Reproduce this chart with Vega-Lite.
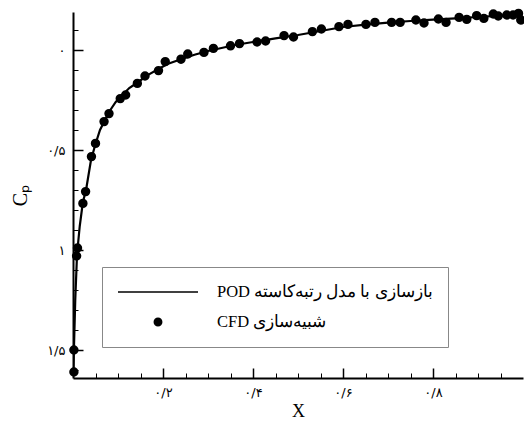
{
  "$schema": "https://vega.github.io/schema/vega-lite/v6.json",
  "width": 450,
  "height": 366,
  "autosize": {"type": "none"},
  "padding": {"left": 73, "top": 12, "right": 1, "bottom": 45},
  "background": "white",
  "config": {
    "view": {"stroke": null},
    "axis": {"grid": false, "domainColor": "black", "tickColor": "black", "labelColor": "black", "titleColor": "black", "labelFont": "DejaVu Sans", "titleFont": "Liberation Serif", "titleFontWeight": "normal"}
  },
  "data": {
    "values": [
      {"series": "POD بازسازی با مدل رتبه‌کاسته", "x": 0.001, "cp": 1.61},
      {"series": "POD بازسازی با مدل رتبه‌کاسته", "x": 0.002, "cp": 1.5},
      {"series": "POD بازسازی با مدل رتبه‌کاسته", "x": 0.005, "cp": 1.25},
      {"series": "POD بازسازی با مدل رتبه‌کاسته", "x": 0.009, "cp": 1.02},
      {"series": "POD بازسازی با مدل رتبه‌کاسته", "x": 0.015, "cp": 0.88},
      {"series": "POD بازسازی با مدل رتبه‌کاسته", "x": 0.022, "cp": 0.76},
      {"series": "POD بازسازی با مدل رتبه‌کاسته", "x": 0.029, "cp": 0.7},
      {"series": "POD بازسازی با مدل رتبه‌کاسته", "x": 0.04, "cp": 0.55},
      {"series": "POD بازسازی با مدل رتبه‌کاسته", "x": 0.05, "cp": 0.47},
      {"series": "POD بازسازی با مدل رتبه‌کاسته", "x": 0.06, "cp": 0.4},
      {"series": "POD بازسازی با مدل رتبه‌کاسته", "x": 0.07, "cp": 0.355},
      {"series": "POD بازسازی با مدل رتبه‌کاسته", "x": 0.08, "cp": 0.31},
      {"series": "POD بازسازی با مدل رتبه‌کاسته", "x": 0.095, "cp": 0.26},
      {"series": "POD بازسازی با مدل رتبه‌کاسته", "x": 0.11, "cp": 0.225},
      {"series": "POD بازسازی با مدل رتبه‌کاسته", "x": 0.125, "cp": 0.19},
      {"series": "POD بازسازی با مدل رتبه‌کاسته", "x": 0.145, "cp": 0.16},
      {"series": "POD بازسازی با مدل رتبه‌کاسته", "x": 0.165, "cp": 0.127},
      {"series": "POD بازسازی با مدل رتبه‌کاسته", "x": 0.19, "cp": 0.095},
      {"series": "POD بازسازی با مدل رتبه‌کاسته", "x": 0.21, "cp": 0.07},
      {"series": "POD بازسازی با مدل رتبه‌کاسته", "x": 0.24, "cp": 0.046},
      {"series": "POD بازسازی با مدل رتبه‌کاسته", "x": 0.27, "cp": 0.024},
      {"series": "POD بازسازی با مدل رتبه‌کاسته", "x": 0.3, "cp": 0.005},
      {"series": "POD بازسازی با مدل رتبه‌کاسته", "x": 0.33, "cp": -0.01},
      {"series": "POD بازسازی با مدل رتبه‌کاسته", "x": 0.36, "cp": -0.025},
      {"series": "POD بازسازی با مدل رتبه‌کاسته", "x": 0.4, "cp": -0.04},
      {"series": "POD بازسازی با مدل رتبه‌کاسته", "x": 0.45, "cp": -0.058},
      {"series": "POD بازسازی با مدل رتبه‌کاسته", "x": 0.5, "cp": -0.075},
      {"series": "POD بازسازی با مدل رتبه‌کاسته", "x": 0.55, "cp": -0.095},
      {"series": "POD بازسازی با مدل رتبه‌کاسته", "x": 0.6, "cp": -0.115},
      {"series": "POD بازسازی با مدل رتبه‌کاسته", "x": 0.65, "cp": -0.127},
      {"series": "POD بازسازی با مدل رتبه‌کاسته", "x": 0.7, "cp": -0.137},
      {"series": "POD بازسازی با مدل رتبه‌کاسته", "x": 0.75, "cp": -0.145},
      {"series": "POD بازسازی با مدل رتبه‌کاسته", "x": 0.8, "cp": -0.152},
      {"series": "POD بازسازی با مدل رتبه‌کاسته", "x": 0.85, "cp": -0.158},
      {"series": "POD بازسازی با مدل رتبه‌کاسته", "x": 0.9, "cp": -0.165},
      {"series": "POD بازسازی با مدل رتبه‌کاسته", "x": 0.95, "cp": -0.172},
      {"series": "POD بازسازی با مدل رتبه‌کاسته", "x": 1.0, "cp": -0.178},
      {"series": "CFD شبیه‌سازی", "x": 0.002, "cp": 1.61},
      {"series": "CFD شبیه‌سازی", "x": 0.002, "cp": 1.5},
      {"series": "CFD شبیه‌سازی", "x": 0.008, "cp": 1.03},
      {"series": "CFD شبیه‌سازی", "x": 0.01, "cp": 0.99},
      {"series": "CFD شبیه‌سازی", "x": 0.022, "cp": 0.767},
      {"series": "CFD شبیه‌سازی", "x": 0.028, "cp": 0.708},
      {"series": "CFD شبیه‌سازی", "x": 0.041, "cp": 0.533},
      {"series": "CFD شبیه‌سازی", "x": 0.05, "cp": 0.467},
      {"series": "CFD شبیه‌سازی", "x": 0.069, "cp": 0.358},
      {"series": "CFD شبیه‌سازی", "x": 0.08, "cp": 0.318},
      {"series": "CFD شبیه‌سازی", "x": 0.105, "cp": 0.243},
      {"series": "CFD شبیه‌سازی", "x": 0.117, "cp": 0.225},
      {"series": "CFD شبیه‌سازی", "x": 0.143, "cp": 0.167},
      {"series": "CFD شبیه‌سازی", "x": 0.16, "cp": 0.13},
      {"series": "CFD شبیه‌سازی", "x": 0.19, "cp": 0.103},
      {"series": "CFD شبیه‌سازی", "x": 0.205, "cp": 0.058},
      {"series": "CFD شبیه‌سازی", "x": 0.24, "cp": 0.046},
      {"series": "CFD شبیه‌سازی", "x": 0.255, "cp": 0.02},
      {"series": "CFD شبیه‌سازی", "x": 0.291, "cp": 0.012},
      {"series": "CFD شبیه‌سازی", "x": 0.312, "cp": -0.008},
      {"series": "CFD شبیه‌سازی", "x": 0.35, "cp": -0.021},
      {"series": "CFD شبیه‌سازی", "x": 0.37, "cp": -0.032},
      {"series": "CFD شبیه‌سازی", "x": 0.409, "cp": -0.04},
      {"series": "CFD شبیه‌سازی", "x": 0.428, "cp": -0.045},
      {"series": "CFD شبیه‌سازی", "x": 0.469, "cp": -0.072},
      {"series": "CFD شبیه‌سازی", "x": 0.49, "cp": -0.065},
      {"series": "CFD شبیه‌سازی", "x": 0.532, "cp": -0.092},
      {"series": "CFD شبیه‌سازی", "x": 0.552, "cp": -0.105},
      {"series": "CFD شبیه‌سازی", "x": 0.591, "cp": -0.117},
      {"series": "CFD شبیه‌سازی", "x": 0.611, "cp": -0.128},
      {"series": "CFD شبیه‌سازی", "x": 0.651, "cp": -0.128},
      {"series": "CFD شبیه‌سازی", "x": 0.671, "cp": -0.138},
      {"series": "CFD شبیه‌سازی", "x": 0.708, "cp": -0.138},
      {"series": "CFD شبیه‌سازی", "x": 0.727, "cp": -0.138},
      {"series": "CFD شبیه‌سازی", "x": 0.762, "cp": -0.15},
      {"series": "CFD شبیه‌سازی", "x": 0.78, "cp": -0.135},
      {"series": "CFD شبیه‌سازی", "x": 0.812, "cp": -0.155},
      {"series": "CFD شبیه‌سازی", "x": 0.829, "cp": -0.138},
      {"series": "CFD شبیه‌سازی", "x": 0.858, "cp": -0.163},
      {"series": "CFD شبیه‌سازی", "x": 0.875, "cp": -0.153},
      {"series": "CFD شبیه‌سازی", "x": 0.897, "cp": -0.172},
      {"series": "CFD شبیه‌سازی", "x": 0.913, "cp": -0.158},
      {"series": "CFD شبیه‌سازی", "x": 0.934, "cp": -0.18},
      {"series": "CFD شبیه‌سازی", "x": 0.945, "cp": -0.17},
      {"series": "CFD شبیه‌سازی", "x": 0.964, "cp": -0.175},
      {"series": "CFD شبیه‌سازی", "x": 0.978, "cp": -0.175},
      {"series": "CFD شبیه‌سازی", "x": 0.99, "cp": -0.183},
      {"series": "CFD شبیه‌سازی", "x": 0.995, "cp": -0.15}
    ]
  },
  "resolve": {"axis": {"x": "independent", "y": "independent"}},
  "layer": [
    {
      "transform": [{"filter": "datum.series === 'POD بازسازی با مدل رتبه‌کاسته'"}],
      "mark": {"type": "line", "color": "black", "strokeWidth": 2.2, "clip": true},
      "encoding": {
        "x": {"field": "x", "type": "quantitative", "scale": {"domain": [0, 1], "nice": false, "zero": false},
          "axis": {"orient": "bottom", "values": [0.2, 0.4, 0.6, 0.8], "tickSize": -10, "tickWidth": 1.5, "domainWidth": 2, "labelPadding": 18, "labelFontSize": 13,
            "labelExpr": "datum.value == 0.2 ? '۰/۲' : datum.value == 0.4 ? '۰/۴' : datum.value == 0.6 ? '۰/۶' : '۰/۸'",
            "title": "X", "titleFontSize": 18, "titlePadding": 3}},
        "y": {"field": "cp", "type": "quantitative", "scale": {"domain": [-0.19, 1.64], "nice": false, "zero": false, "reverse": true},
          "axis": {"orient": "left", "values": [0, 0.5, 1, 1.5], "tickSize": -10, "tickWidth": 1.5, "domainWidth": 2, "labelPadding": 18, "labelFontSize": 13,
            "labelExpr": "datum.value == 0 ? '۰' : datum.value == 0.5 ? '۰/۵' : datum.value == 1 ? '۱' : '۱/۵'",
            "title": "Cₚ", "titleFontSize": 20, "titlePadding": 16}}
      }
    },
    {
      "transform": [{"filter": "datum.series === 'CFD شبیه‌سازی'"}],
      "mark": {"type": "point", "filled": true, "color": "black", "stroke": "black", "strokeWidth": 2, "opacity": 1, "clip": false},
      "encoding": {
        "x": {"field": "x", "type": "quantitative",
          "axis": {"orient": "bottom", "values": [0.05, 0.1, 0.15, 0.25, 0.3, 0.35, 0.45, 0.5, 0.55, 0.65, 0.7, 0.75, 0.85, 0.9, 0.95], "tickSize": -5, "tickWidth": 1, "labels": false, "domain": false, "title": null}},
        "y": {"field": "cp", "type": "quantitative",
          "axis": {"orient": "left", "values": [-0.1, 0.1, 0.2, 0.3, 0.4, 0.6, 0.7, 0.8, 0.9, 1.1, 1.2, 1.3, 1.4, 1.6], "tickSize": -5, "tickWidth": 1, "labels": false, "domain": false, "title": null}},
        "size": {"field": "series", "type": "nominal",
          "scale": {"type": "ordinal", "domain": ["POD بازسازی با مدل رتبه‌کاسته", "CFD شبیه‌سازی"], "range": [6400, 55]},
          "legend": {"orient": "none", "legendX": 29, "legendY": 255, "title": null, "strokeColor": "#888", "fillColor": "white", "padding": 15,
            "labelFont": "Liberation Serif", "labelFontSize": 16.5, "labelLimit": 400, "labelOffset": 18, "rowPadding": 10, "clipHeight": 20}},
        "shape": {"field": "series", "type": "nominal",
          "scale": {"domain": ["POD بازسازی با مدل رتبه‌کاسته", "CFD شبیه‌سازی"], "range": ["stroke", "circle"]},
          "legend": {"orient": "none", "legendX": 29, "legendY": 255, "title": null, "strokeColor": "#888", "fillColor": "white", "padding": 15,
            "labelFont": "Liberation Serif", "labelFontSize": 16.5, "labelLimit": 400, "labelOffset": 18, "rowPadding": 10, "clipHeight": 20}}
      }
    }
  ]
}
